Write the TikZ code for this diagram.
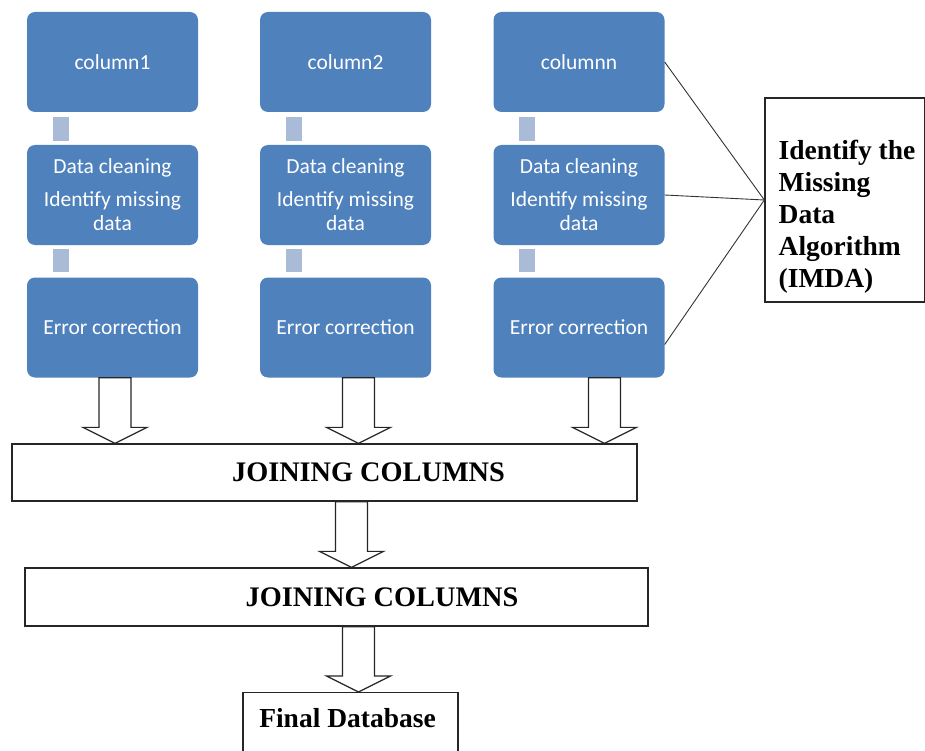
\documentclass[tikz,border=0pt]{standalone}
\usepackage{fontspec}
\setmainfont{Liberation Serif}
\newfontfamily\boxfont{Carlito}
\usetikzlibrary{calc}

\definecolor{boxblue}{RGB}{79,129,189}
\definecolor{linkblue}{RGB}{170,187,216}

% hollow block arrow: x position, from node, to node
\newcommand\bigarrow[3]{%
	\draw[hollow] let \p1=(#2.south), \p2=(#3.north) in
	(#1pt-16pt,\y1) -- (#1pt+16pt,\y1) -- (#1pt+16pt,\y2+16pt) -- (#1pt+32pt,\y2+16pt)
	-- (#1pt,\y2) -- (#1pt-32pt,\y2+16pt) -- (#1pt-16pt,\y2+16pt) -- cycle;}

\begin{document}
\begin{tikzpicture}[x=1pt,y=-1pt,
	blue/.style={fill=boxblue, rounded corners=8pt, minimum width=171pt, minimum height=100pt,
		text=white, align=center, font=\boxfont\fontsize{21.5}{24}\selectfont},
	link/.style={draw=linkblue, line width=16pt},
	plain/.style={draw=black!85, line width=1.3pt, inner sep=0pt,
		font=\bfseries\fontsize{27.5}{32}\selectfont},
	joinfont/.style={font=\bfseries\fontsize{28.3}{32}\selectfont},
	hollow/.style={draw=black!85, fill=white, line width=1.2pt, line join=miter},
	spoke/.style={draw=black!80, line width=0.9pt}]
		\useasboundingbox (0,0) rectangle (925,751);
		\clip (0,0) rectangle (925,751);
		
		% the three columns
		\node[blue] (col1) at (112.5,62) {column1};
		\node[blue] (clean1) at (112.5,195) {Data cleaning\\[9pt]Identify missing\\data};
		\node[blue] (err1) at (112.5,327.5) {Error correction};
		\node[blue] (col2) at (345.5,62) {column2};
		\node[blue] (clean2) at (345.5,195) {Data cleaning\\[9pt]Identify missing\\data};
		\node[blue] (err2) at (345.5,327.5) {Error correction};
		\node[blue] (col3) at (579,62) {columnn};
		\node[blue] (clean3) at (579,195) {Data cleaning\\[9pt]Identify missing\\data};
		\node[blue] (err3) at (579,327.5) {Error correction};
		
		\draw[link] ([xshift=-52pt,yshift=-5pt]col1.south) -- ([xshift=-52pt,yshift=4pt]clean1.north);
		\draw[link] ([xshift=-52pt,yshift=-4pt]clean1.south) -- ([xshift=-52pt,yshift=5pt]err1.north);
		\draw[link] ([xshift=-52pt,yshift=-5pt]col2.south) -- ([xshift=-52pt,yshift=4pt]clean2.north);
		\draw[link] ([xshift=-52pt,yshift=-4pt]clean2.south) -- ([xshift=-52pt,yshift=5pt]err2.north);
		\draw[link] ([xshift=-52pt,yshift=-5pt]col3.south) -- ([xshift=-52pt,yshift=4pt]clean3.north);
		\draw[link] ([xshift=-52pt,yshift=-4pt]clean3.south) -- ([xshift=-52pt,yshift=5pt]err3.north);
		
		% algorithm box
		\node[plain, minimum width=160pt, minimum height=204pt] (imda) at (845,200) {};
		\node[plain, draw=none, anchor=west, align=left] (imdatext) at (778,217)
		{Identify the\\Missing\\Data\\Algorithm\\(IMDA)};
		\draw[spoke] (col3.east) -- (imda.west);
		\draw[spoke] (clean3.east) -- (imda.west);
		\draw[spoke] ([yshift=-17pt]err3.east) -- (imda.west);
		
		% joining and result
		\node[plain, joinfont, minimum width=625pt, minimum height=57pt] (join1) at (324.5,472.5)
		{\hspace*{88pt}JOINING COLUMNS};
		\node[plain, joinfont, minimum width=623pt, minimum height=58pt] (join2) at (336.5,597)
		{\hspace*{91pt}JOINING COLUMNS};
		\node[plain, anchor=north, minimum width=215pt, text height=19pt, text depth=45pt,
		inner ysep=16pt] (final) at (350.5,692) {\hspace*{-6pt}Final Database};
		
		\bigarrow{115}{err1}{join1}
		\bigarrow{358.5}{err2}{join1}
		\bigarrow{604.5}{err3}{join1}
		\bigarrow{351.5}{join1}{join2}
		\bigarrow{358.5}{join2}{final}
		
\end{tikzpicture}
\end{document}
